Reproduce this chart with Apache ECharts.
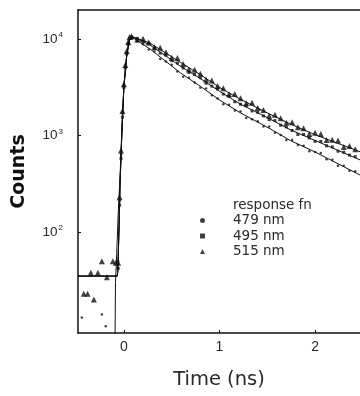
<!DOCTYPE html>
<html>
<head>
<meta charset="utf-8">
<script src="https://cdn.jsdelivr.net/npm/echarts@6/dist/echarts.min.js"></script>
<style>html,body{margin:0;padding:0;background:#fff;}#c{width:360px;height:396px;}</style>
</head>
<body>
<div id="c"></div>
<script>
// ---- data ----
const decayTime = [0.08,0.14,0.20,0.26,0.32,0.38,0.44,0.50,0.56,0.62,0.68,0.74,0.80,0.86,0.92,0.98,1.04,1.10,1.16,1.22,1.28,1.34,1.40,1.46,1.52,1.58,1.64,1.70,1.76,1.82,1.88,1.94,2.00,2.06,2.12,2.18,2.24,2.30,2.36,2.42];
const decay479 = [10720,9420,8810,7780,7430,6220,5850,5430,4600,4070,3980,3550,3130,3080,2610,2420,2110,2080,1820,1780,1520,1480,1410,1240,1245,1070,1016,897,904,800,785,689,676,659,568,560,488,486,432,428];
const decay495 = [10230,10140,9290,9020,8050,7140,6810,5980,5640,5020,4510,4290,3980,3480,3250,3040,2690,2560,2240,2110,2040,1800,1740,1600,1460,1430,1280,1230,1130,1025,1025,944,871,869,783,764,689,671,627,604];
const decay515 = [10720,9910,10100,9200,8200,8150,7310,6400,6370,5510,4830,4810,4370,3810,3730,3260,3100,2680,2690,2430,2160,2190,1930,1840,1600,1640,1510,1360,1370,1220,1190,1035,1070,1040,900,904,887,759,780,723];

const riseTime = [-0.06,-0.045,-0.03,-0.015,0,0.015,0.03,0.045,0.06];
const rise479 = [50,210,640,1700,3300,5200,7200,9000,10300];
const rise495 = [42,190,580,1550,3150,5000,7000,8800,10100];
const rise515 = [48,230,700,1800,3400,5400,7500,9300,10500];

const pre479Time = [-0.44,-0.23,-0.19];
const pre479 = [13,14,10.6];
const pre515Time = [-0.42,-0.38,-0.346,-0.314,-0.272,-0.23,-0.178,-0.115,-0.085];
const pre515 = [23,23,38,20,38,50,34,50,48];

const fitTime = [-0.48,-0.07,-0.063,-0.05,-0.04,-0.02,0,0.03,0.06,0.1,0.27,0.59,0.8,1.0,1.21,1.53,1.74,2.0,2.47];
const fit479 = [35,35,40,120,320,1140,3180,6800,10000,10230,7940,4470,3240,2340,1740,1175,890,676,390];
const fit495 = [35,35,40,120,320,1140,3180,6800,10000,10470,8710,5250,3890,2880,2140,1480,1150,890,560];
const fit515 = [35,35,40,120,320,1140,3180,6800,10000,10470,9120,5750,4270,3160,2400,1660,1320,1020,680];

const respTime = [-0.094,-0.088,-0.075,-0.06,-0.04,-0.02,0,0.03,0.06];
const respVals = [5,30,60,150,380,1250,3300,7000,10200];

const xTicks = [0,1,2];
const yTicks = [100,1000,10000];
const yTickExps = {100:'2',1000:'3',10000:'4'};

// ---- build ----
function pairs(t, v){ return t.map((x,i)=>[x, v[i]]); }
const ink = '#111';
const txt = '#2a2a2a';

const chart = echarts.init(document.getElementById('c'), null, {renderer:'canvas'});
const fitLine = (name, t, v) => ({
  name: name, type:'line', data: pairs(t,v), showSymbol:false, symbol:'none',
  lineStyle:{color:ink, width:1}, itemStyle:{color:ink}, silent:true, z:3, clip:true
});
const scat = (name, t, v, sym, size) => ({
  name: name, type:'scatter', data: pairs(t,v), symbol: sym, symbolSize: size,
  itemStyle:{color:ink}, z:4, clip:true
});

chart.setOption({
  animation:false,
  backgroundColor:'#fff',
  grid:{left:78, top:10, right:0, bottom:63, containLabel:false},
  legend:{
    orient:'vertical', left:195, top:193, itemGap:1.5,
    itemWidth:5, itemHeight:5,
    textStyle:{color:txt, fontSize:13.5, fontFamily:'DejaVu Sans', padding:[0,0,0,23]},
    data:[
      {name:'response fn', icon:'rect', itemStyle:{opacity:0}},
      {name:'479 nm', icon:'circle'},
      {name:'495 nm', icon:'rect'},
      {name:'515 nm', icon:'triangle'}
    ],
    selectedMode:false
  },
  xAxis:[{
    type:'value', min:-0.48, max:2.47,
    name:'Time (ns)', nameLocation:'middle', nameGap:37,
    nameTextStyle:{color:txt, fontSize:19.5, fontFamily:'DejaVu Sans'},
    axisLine:{show:true, onZero:false, lineStyle:{color:ink, width:1.5}},
    axisTick:{show:true, inside:true, length:3, customValues:xTicks, lineStyle:{color:ink}},
    axisLabel:{color:txt, fontSize:14, margin:7, fontFamily:'Liberation Sans', customValues:xTicks,
      formatter: v => String(Math.round(v))},
    splitLine:{show:false}
  },{
    type:'value', position:'top', min:-0.48, max:2.47,
    axisLine:{show:true, onZero:false, lineStyle:{color:ink, width:1.5}},
    axisTick:{show:false}, axisLabel:{show:false}, splitLine:{show:false}
  }],
  yAxis:{
    type:'log', logBase:10, min:9, max:20000,
    name:'Counts', nameLocation:'middle', nameGap:49,
    nameTextStyle:{color:ink, fontSize:19, fontWeight:'bold', fontFamily:'DejaVu Sans'},
    axisLine:{show:true, onZero:false, lineStyle:{color:ink, width:1.5}},
    axisTick:{show:true, inside:true, length:3, customValues:yTicks, lineStyle:{color:ink}},
    axisLabel:{color:txt, margin:15, fontFamily:'Liberation Sans', customValues:yTicks,
      formatter: v => { const k = Math.round(v); return yTickExps[k] ? '{b|10}{s|' + yTickExps[k] + '}' : ''; },
      rich:{ b:{fontSize:13.5, color:txt, fontFamily:'Liberation Sans'},
             s:{fontSize:8, color:txt, verticalAlign:'top', padding:[0,0,8,1], fontFamily:'Liberation Sans'} }
    },
    splitLine:{show:false}
  },
  series:[
    fitLine('response fn', respTime, respVals),
    fitLine('fit 479', fitTime, fit479),
    fitLine('fit 495', fitTime, fit495),
    fitLine('fit 515', fitTime, fit515),
    scat('479 nm', decayTime.concat(riseTime, pre479Time), decay479.concat(rise479, pre479), 'circle', 2.5),
    scat('495 nm', decayTime.concat(riseTime), decay495.concat(rise495), 'rect', 3),
    scat('515 nm', decayTime.concat(riseTime, pre515Time), decay515.concat(rise515, pre515), 'triangle', 6)
  ]
});
</script>
</body>
</html>
